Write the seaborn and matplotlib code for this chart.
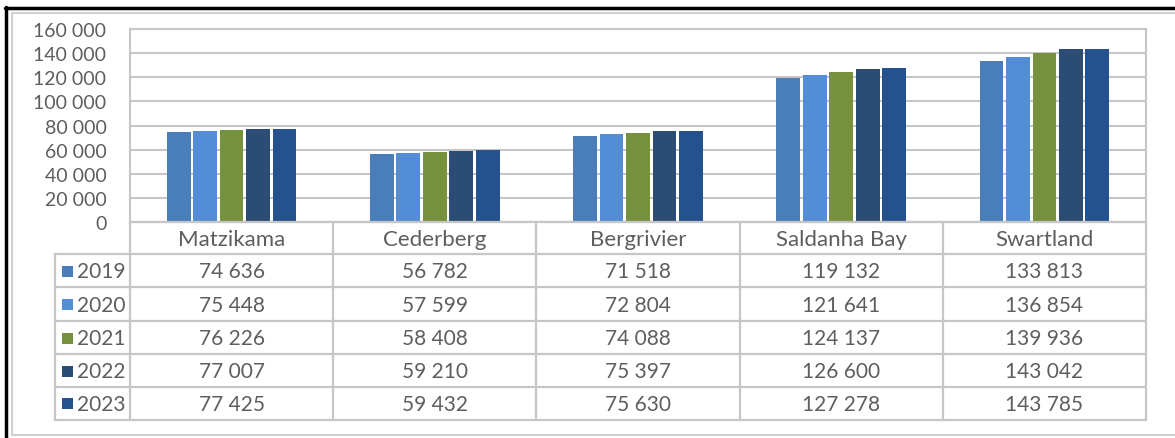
import matplotlib
matplotlib.use("Agg")
import matplotlib.pyplot as plt
import seaborn as sns
import pandas as pd
from matplotlib.ticker import FuncFormatter

categories = ["Matzikama", "Cederberg", "Bergrivier", "Saldanha Bay", "Swartland"]
years = ["2019", "2020", "2021", "2022", "2023"]
v2019 = [74636, 56782, 71518, 119132, 133813]
v2020 = [75448, 57599, 72804, 121641, 136854]
v2021 = [76226, 58408, 74088, 124137, 139936]
v2022 = [77007, 59210, 75397, 126600, 143042]
v2023 = [77425, 59432, 75630, 127278, 143785]
series = [v2019, v2020, v2021, v2022, v2023]
colors = ["#4A7EBB", "#538DD5", "#76923C", "#2B4C74", "#24528E"]

rows = []
for y, vals in zip(years, series):
    for c, v in zip(categories, vals):
        rows.append({"Municipality": c, "Year": y, "Population": v})
df = pd.DataFrame(rows)

sns.set_style("white")
plt.rcParams["font.family"] = ["Lato", "DejaVu Sans"]
TXT = "#5E5E5E"
GRID = "#C6C6C6"

W, H = 1175, 439
fig = plt.figure(figsize=(W / 100, H / 100), dpi=100)

# plot area in pixel coords
L, R, T, B = 130, 1146, 30, 223
ax = fig.add_axes([L / W, 1 - B / H, (R - L) / W, (B - T) / H])
sns.barplot(data=df, x="Municipality", y="Population", hue="Year",
            palette=colors, width=0.65, gap=0.1, ax=ax, legend=False,
            saturation=1, edgecolor="none", zorder=3)
ax.set_xlim(-0.5, len(categories) - 0.5)
ax.set_ylim(0, 160000)
ax.set_yticks(range(0, 160001, 20000))
ax.yaxis.set_major_formatter(FuncFormatter(lambda v, p: f"{int(v):,}".replace(",", " ")))
ax.tick_params(axis="y", length=0, pad=17, labelsize=14, labelcolor=TXT)
ax.set_xticks([])
ax.set_xlabel("")
ax.set_ylabel("")
ax.grid(axis="y", color=GRID, lw=1.5, zorder=0)
ax.set_axisbelow(True)
for s in ax.spines.values():
    s.set_color(GRID)
    s.set_linewidth(1.5)

# overlay for table and frame
ov = fig.add_axes([0, 0, 1, 1], zorder=5)
ov.set_xlim(0, W)
ov.set_ylim(H, 0)
ov.axis("off")
ov.patch.set_alpha(0)

catw = (R - L) / len(categories)
LEGX = 55
row_edges = [B, 255, 288, 322, 355, 388, 421]
lw = 1.6
# horizontal lines
ov.plot([L, R], [row_edges[0], row_edges[0]], color=GRID, lw=lw)
for yv in row_edges[1:]:
    ov.plot([LEGX, R], [yv, yv], color=GRID, lw=lw)
# vertical lines
ov.plot([LEGX, LEGX], [row_edges[1], row_edges[-1]], color=GRID, lw=lw)
for i in range(len(categories) + 1):
    xv = L + catw * i
    ov.plot([xv, xv], [row_edges[0], row_edges[-1]], color=GRID, lw=lw)

# header
for i, c in enumerate(categories):
    xc = L + catw * (i + 0.5)
    ov.text(xc, (row_edges[0] + row_edges[1]) / 2 + 1, c, ha="center", va="center",
            fontsize=16, color=TXT)

# body rows
for r, (y, vals, col) in enumerate(zip(years, series, colors)):
    yc = (row_edges[r + 1] + row_edges[r + 2]) / 2 + 1
    ov.add_patch(plt.Rectangle((62, yc - 6), 11, 11, color=col, lw=0))
    ov.text(77, yc, y, ha="left", va="center", fontsize=15, color=TXT)
    for i, v in enumerate(vals):
        xc = L + catw * (i + 0.5)
        ov.text(xc, yc, f"{v:,}".replace(",", " "), ha="center", va="center",
                fontsize=15, color=TXT)

# outer frame
ov.plot([5.5, 5.5], [8, H], color="black", lw=2.5)
ov.plot([5, W], [8.5, 8.5], color="black", lw=2.5)
ov.plot([12, 12], [14, 436], color="#D0D0D0", lw=1.5)
ov.plot([12, W], [14, 14], color="#D0D0D0", lw=1.5)
ov.plot([12, W], [436, 436], color="#D0D0D0", lw=1.5)

fig.savefig("out.png", dpi=100)
